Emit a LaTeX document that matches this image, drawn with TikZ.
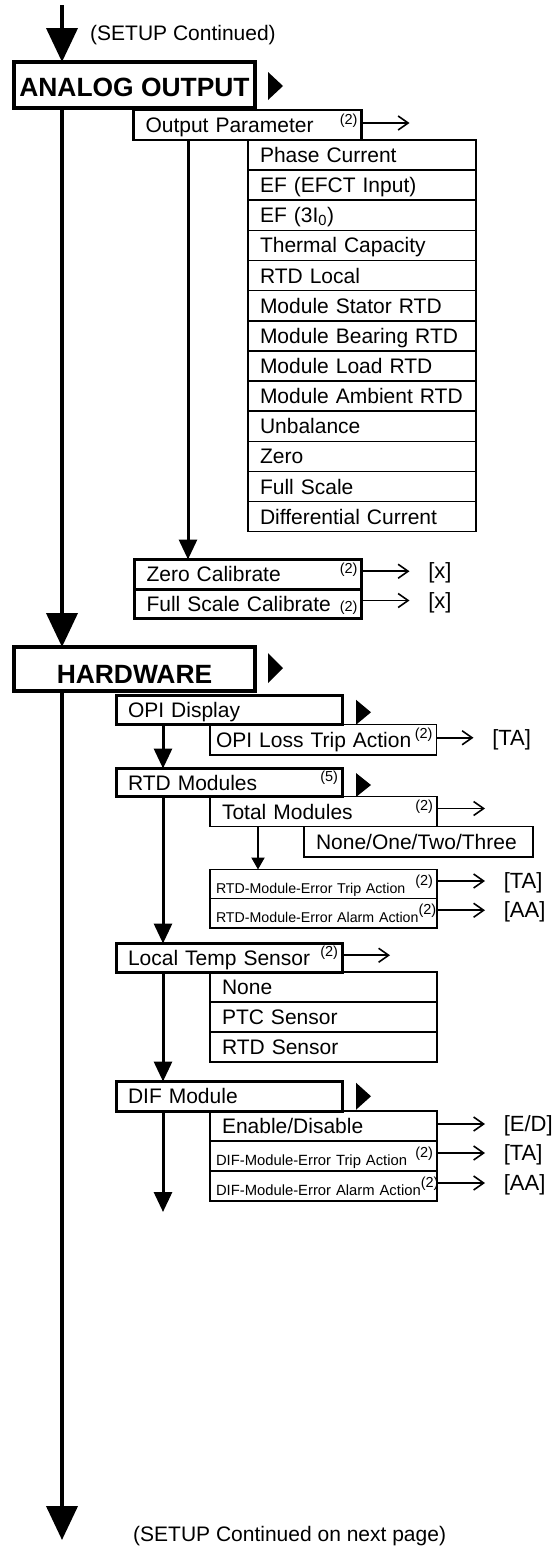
\documentclass[tikz,border=0pt]{standalone}
\usepackage{fontspec}
\setmainfont{Liberation Sans}
\usepackage{tikz}
\usetikzlibrary{arrows.meta, positioning}

\newcommand{\upnote}[2][8pt]{\nobreak\hfill\raisebox{8.5pt}{\fontsize{14.5}{14.5}\selectfont(#2)}\hspace*{-#1}\parfillskip=0pt\par}
\newcommand{\innote}[2][8pt]{\nobreak\hfill{\fontsize{14.5}{14.5}\selectfont(#2)}\hspace*{-#1}\parfillskip=0pt\par}
\newcommand{\navmark}[2]{\fill (#1) ++(0,-#2) -- ++(15,#2) -- ++(-15,#2) -- cycle;}

\begin{document}
\begin{tikzpicture}[x=1pt, y=-1pt,
    headbox/.style={draw, line width=4pt, outer sep=0pt, inner sep=0pt, anchor=north west,
        minimum width=241pt, font=\fontsize{26.4}{30}\selectfont\bfseries, text depth=0pt},
    itembox/.style={draw, line width=3pt, outer sep=0pt, inner xsep=12pt, inner ysep=0pt,
        anchor=north west, text width=202pt, font=\fontsize{21}{25}\selectfont,
        text height=15pt, text depth=0pt},
    listbox/.style={itembox, line width=1.6pt, text width=203pt},
    smallbox/.style={listbox, inner xsep=6pt, text width=215pt,
        font=\fontsize{14.2}{17}\selectfont, text height=19pt},
    mainflow/.style={line width=4pt, -{Triangle[width=31pt,length=34pt]}},
    subflow/.style={line width=3pt, -{Triangle[width=18pt,length=20pt]}},
    smallflow/.style={line width=2pt, -{Triangle[width=13pt,length=12pt]}},
    outflow/.style={line width=1.6pt, -{Straight Barb[length=10pt,width=14pt]}},
    valtext/.style={font=\fontsize{22}{26}\selectfont, inner sep=0pt, right=18pt, yshift=-2pt},
    note/.style={font=\fontsize{21}{25}\selectfont, inner sep=0pt, anchor=west}
  ]
    \useasboundingbox (0,0) rectangle (555,1547);

    % Main flow
    \coordinate (entry) at (62,5);
    \coordinate (exit) at (62,1540);
    \node[note] (setupcont) at (90,35) {(SETUP Continued)};
    \node[note] (setupnext) at (133,1536) {(SETUP Continued on next page)};

    % --- Analog output ---
    \node[headbox, minimum height=46pt, text height=23pt] (analog) at (14,62) {ANALOG OUTPUT};
    \navmark{[xshift=13pt,yshift=-1pt]analog.east}{14}
    \node[itembox, line width=2.5pt, text width=204pt, minimum height=30pt] (outpar) at (133.5,110)
        {Output Parameter\upnote{2}};
    \draw[outflow] ([yshift=2pt]outpar.east) -- ++(48,0);

    \foreach \param [count=\i] in {Phase Current, EF (EFCT Input), EF (3I\textsubscript{0}),
        Thermal Capacity, RTD Local, Module Stator RTD, Module Bearing RTD, Module Load RTD,
        Module Ambient RTD, Unbalance, Zero, Full Scale, Differential Current}
        \node[listbox, text width=204pt, minimum height=30.13pt] (param\i) at (248,{140+(\i-1)*30.13}) {\param};

    \node[itembox, text width=203pt, minimum height=29.5pt] (zerocal) at (134.5,559.5)
        {Zero Calibrate\upnote{2}};
    \node[itembox, text width=203pt, minimum height=29pt] (fullcal) at (134.5,589)
        {Full Scale Calibrate\innote{2}};
    \draw[subflow] ([xshift=54.5pt]outpar.south west) -- ([xshift=53.5pt]zerocal.north west);
    \draw[outflow] ([yshift=3pt]zerocal.east) -- ++(48,0) node[valtext] (zeroval) {[x]};
    \draw[outflow] ([yshift=3pt]fullcal.east) -- ++(48,0) node[valtext] (fullval) {[x]};

    % --- Hardware ---
    \node[headbox, minimum height=44pt, text height=28pt] (hardware) at (14,647) {HARDWARE};
    \navmark{[xshift=13pt,yshift=1pt]hardware.east}{15}

    \node[itembox, minimum height=28.5pt] (opi) at (116,695.5) {OPI Display};
    \navmark{[xshift=14pt,yshift=-2.5pt]opi.east}{12.5}
    \node[listbox, inner xsep=6pt, text width=214.5pt, minimum height=30.5pt] (opiloss) at (210,724.5)
        {OPI Loss Trip Action\upnote[2pt]{2}};
    \draw[outflow] ([yshift=2pt]opiloss.east) -- ++(37,0) node[valtext] (opival) {[TA]};

    \node[itembox, minimum height=28pt] (rtdmod) at (116,768.5) {RTD Modules\upnote{5}};
    \navmark{[xshift=14pt,yshift=-2.5pt]rtdmod.east}{12}
    \node[listbox, minimum height=30pt] (totmod) at (210,796.5) {Total Modules\upnote{2}};
    \draw[outflow] ([yshift=3pt]totmod.east) -- ++(48,0);
    \node[listbox, text width=205pt, minimum height=30.5pt] (modcount) at (304,826.5) {None/One/Two/Three};
    \node[smallbox, minimum height=29pt] (rtdtrip) at (210,869.5)
        {\mbox{RTD-Module-Error Trip Action}\upnote[2pt]{2}};
    \node[smallbox, minimum height=29.5pt] (rtdalarm) at (210,898.5)
        {\mbox{RTD-Module-Error Alarm Action}\upnote[2pt]{2}};
    \draw[smallflow] ([xshift=48pt]totmod.south west) -- ([xshift=48pt]rtdtrip.north west);
    \draw[outflow] ([yshift=3pt]rtdtrip.east) -- ++(48,0) node[valtext] (rtdta) {[TA]};
    \draw[outflow] ([yshift=3pt]rtdalarm.east) -- ++(48,0) node[valtext] (rtdaa) {[AA]};

    \node[itembox, minimum height=28.5pt] (loctemp) at (116,943.5) {Local Temp Sensor\upnote{2}};
    \draw[outflow] ([yshift=2.5pt]loctemp.east) -- ++(48,0);
    \foreach \sensor [count=\i] in {None, PTC Sensor, RTD Sensor}
        \node[listbox, minimum height=30pt] (sensor\i) at (210,{972+(\i-1)*30}) {\sensor};

    \node[itembox, minimum height=29.5pt] (difmod) at (116,1081.5) {DIF Module};
    \navmark{[xshift=14pt]difmod.east}{13.5}
    \node[listbox, minimum height=30pt] (difen) at (210,1111) {Enable/Disable};
    \node[smallbox, font=\fontsize{14.8}{17}\selectfont, minimum height=30pt] (diftrip) at (210,1141)
        {\mbox{DIF-Module-Error Trip Action}\upnote[2pt]{2}};
    \node[smallbox, font=\fontsize{14.8}{17}\selectfont, minimum height=30pt] (difalarm) at (210,1171)
        {\mbox{DIF-Module-Error Alarm Action}\upnote[2pt]{2}};
    \draw[outflow] ([yshift=2pt]difen.east) -- ++(48,0) node[valtext] (difed) {[E/D]};
    \draw[outflow] ([yshift=3pt]diftrip.east) -- ++(48,0) node[valtext] (difta) {[TA]};
    \draw[outflow] ([yshift=3pt]difalarm.east) -- ++(48,0) node[valtext] (difaa) {[AA]};

    % Vertical connectors
    \draw[mainflow] (entry) -- (entry |- analog.north);
    \draw[mainflow] (entry |- analog.south) -- (entry |- hardware.north);
    \draw[mainflow] (entry |- hardware.south) -- (exit);
    \draw[subflow] ([xshift=47pt]opi.south west) -- ([xshift=47pt]rtdmod.north west);
    \draw[subflow] ([xshift=47pt]rtdmod.south west) -- ([xshift=47pt]loctemp.north west);
    \draw[subflow] ([xshift=47pt]loctemp.south west) -- ([xshift=47pt]difmod.north west);
    \draw[subflow] ([xshift=47pt]difmod.south west) -- ++(0,101);
\end{tikzpicture}
\end{document}
